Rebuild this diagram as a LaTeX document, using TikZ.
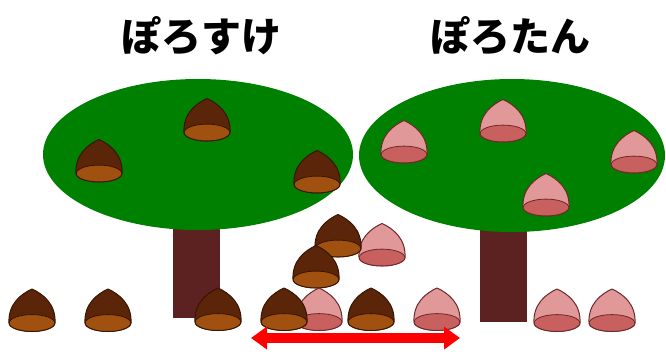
\documentclass[tikz,border=0pt]{standalone}
\usepackage{fontspec}
\newfontfamily\jpfont{Noto Sans CJK JP}
\usetikzlibrary{arrows.meta}
\definecolor{LeafGreen}{HTML}{008000}
\definecolor{TrunkRed}{HTML}{5C2222}
\definecolor{Brown}{HTML}{5A2508}
\definecolor{BrownBand}{HTML}{A0500F}
\definecolor{BrownLine}{HTML}{3A1400}
\definecolor{Pink}{HTML}{E19898}
\definecolor{PinkBand}{HTML}{C86060}
\definecolor{PinkLine}{HTML}{6E2828}
\definecolor{ArrowRed}{HTML}{FF0000}

\tikzset{
  pics/kuri/.style={code={
    \filldraw[fill=#1, draw=#1Line, line width=1pt, line join=round]
      (-23,0) .. controls (-24,19) and (-11,29) .. (0,34)
      .. controls (11,29) and (24,19) .. (23,0)
      arc[start angle=0, end angle=-180, x radius=23, y radius=8.5] -- cycle;
    \filldraw[fill=#1Band, draw=#1Line, line width=0.8pt] (0,0) ellipse[x radius=22.8, y radius=8.4];
  }},
  title/.style={font=\jpfont\bfseries\fontsize{40}{40}\selectfont, inner sep=0pt}
}

\begin{document}
\begin{tikzpicture}[x=1pt, y=1pt]
  \useasboundingbox (0,0) rectangle (666,-354);

  \node[title] (suke) at (201,-36) {ぽろすけ};
  \node[title] (tan) at (510,-36) {ぽろたん};

  % trees
  \fill[TrunkRed] (173,-200) rectangle (220,-318);
  \fill[TrunkRed] (480,-200) rectangle (527,-322);
  \fill[LeafGreen] (198,-154.5) ellipse[x radius=155, y radius=75.5];
  \fill[LeafGreen] (512,-155.5) ellipse[x radius=153, y radius=76.5];

  % chestnuts on the trees
  \pic at (99,-173.5) {kuri=Brown};
  \pic at (207,-132.5) {kuri=Brown};
  \pic at (317,-184.5) {kuri=Brown};
  \pic at (404,-154.5) {kuri=Pink};
  \pic at (503,-133.5) {kuri=Pink};
  \pic at (634,-164.5) {kuri=Pink};
  \pic at (546,-207.5) {kuri=Pink};

  % chestnuts on the ground
  \pic at (382,-257.5) {kuri=Pink};
  \pic at (338,-248.5) {kuri=Brown};
  \pic at (316,-279.5) {kuri=Brown};
  \pic at (32,-323) {kuri=Brown};
  \pic at (108,-323) {kuri=Brown};
  \pic at (218,-322) {kuri=Brown};
  \pic at (319,-322) {kuri=Pink};
  \pic at (284,-322) {kuri=Brown};
  \pic at (371,-322) {kuri=Brown};
  \pic at (437,-322) {kuri=Pink};
  \pic at (557,-323) {kuri=Pink};
  \pic at (612,-323) {kuri=Pink};

  \coordinate (spanL) at (251,-338);
  \coordinate (spanR) at (460,-338);
  \draw[ArrowRed, line width=10pt, {Triangle[length=16pt, width=22pt]}-{Triangle[length=16pt, width=22pt]}] (spanL) -- (spanR);
\end{tikzpicture}
\end{document}
